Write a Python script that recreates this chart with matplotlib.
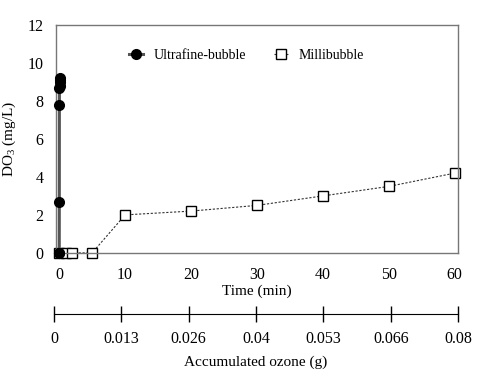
import matplotlib
matplotlib.use("Agg")
import matplotlib.pyplot as plt

plt.rcParams['font.family'] = ['Liberation Serif', 'DejaVu Serif']
plt.rcParams['mathtext.fontset'] = 'custom'
plt.rcParams['mathtext.rm'] = 'Liberation Serif'

# ultrafine bubble: DO3 rises within the first seconds
ufb_time = [0, 0.01, 0.02, 0.03, 0.04, 0.05, 0.06, 0.07, 0.08]
ufb_do3 = [0, 0, 2.7, 7.8, 8.7, 8.8, 9.0, 9.1, 9.2]

# millibubble
mb_time = [0, 1, 2, 5, 10, 20, 30, 40, 50, 60]
mb_do3 = [0, 0, 0, 0, 2.0, 2.2, 2.5, 3.0, 3.5, 4.2]

time_ticks = [0, 10, 20, 30, 40, 50, 60]
ozone_labels = ["0", "0.013", "0.026", "0.04", "0.053", "0.066", "0.08"]

fig = plt.figure(figsize=(4.99, 3.78), dpi=100)
ax = fig.add_axes([0.112, 0.331, 0.806, 0.603])

ax.plot(mb_time, mb_do3, color='#333333', lw=0.8, ls=(0, (2, 1.5)),
        marker='s', ms=6.5, mfc='white', mec='black', mew=1.0,
        label='Millibubble', clip_on=False, zorder=2)
ax.plot(ufb_time, ufb_do3, color='#555555', lw=2.2,
        marker='o', ms=7, mfc='black', mec='black',
        label='Ultrafine-bubble', clip_on=False, zorder=3)

ax.set_xlim(-0.5, 60.5)
ax.set_ylim(0, 12)
ax.set_xticks(time_ticks)
ax.set_yticks(range(0, 13, 2))
ax.tick_params(length=0, labelsize=11.5, pad=10)
ax.tick_params(axis='y', pad=9)
for s in ax.spines.values():
    s.set_color('#777777')
    s.set_linewidth(1.0)
ax.set_xlabel('Time (min)', fontsize=11, labelpad=1)
ax.set_ylabel('DO$_3$ (mg/L)', fontsize=11, labelpad=7)

h, l = ax.get_legend_handles_labels()
ax.legend(h[::-1], l[::-1], loc='upper center', ncol=2, frameon=False,
          fontsize=10, handlelength=1.0, columnspacing=2.0,
          bbox_to_anchor=(0.474, 0.95))

# second x axis: accumulated ozone
ax2 = fig.add_axes([0.108, 0.169, 0.810, 0.0001])
ax2.set_xlim(0, 6)
ax2.set_xticks(range(7))
ax2.set_xticklabels(ozone_labels)
ax2.set_yticks([])
for side in ['top', 'left', 'right']:
    ax2.spines[side].set_visible(False)
ax2.spines['bottom'].set_color('black')
ax2.tick_params(axis='x', direction='inout', length=12, width=1.0,
                labelsize=11.5, pad=6)
ax2.set_xlabel('Accumulated ozone (g)', fontsize=11, labelpad=6)

fig.savefig('out.png', dpi=100)
